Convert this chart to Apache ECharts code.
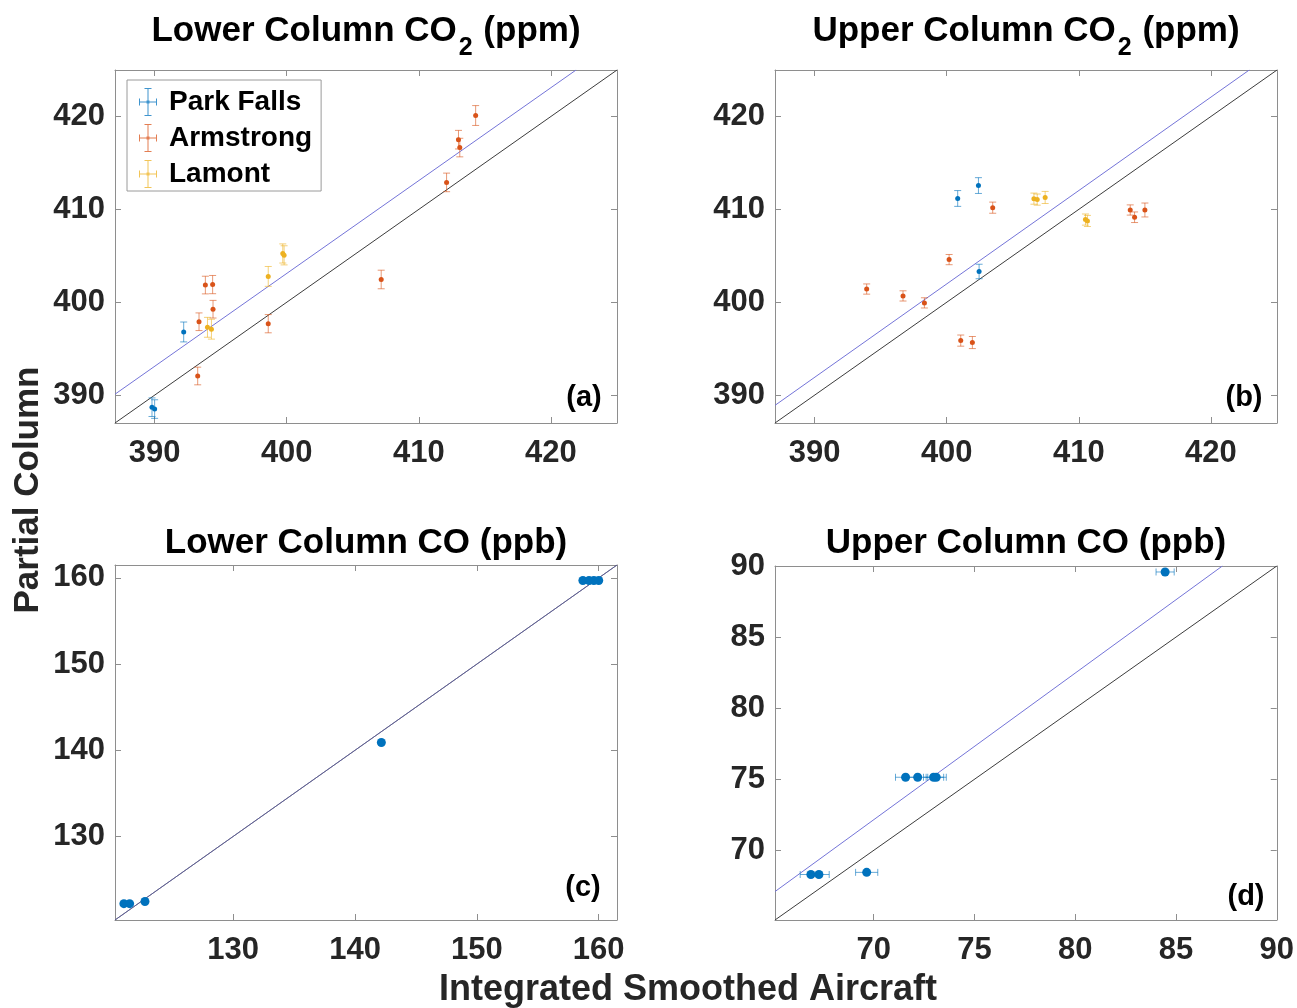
<!DOCTYPE html>
<html>
<head>
<meta charset="utf-8">
<script src="https://cdn.jsdelivr.net/npm/echarts@6/dist/echarts.min.js"></script>
<style>
  html, body { margin: 0; padding: 0; background: #fff; }
  #chart { width: 1297px; height: 1008px; }
</style>
</head>
<body>
<div id="chart"></div>
<script>
// ---- Data: [aircraft, partial column, ±aircraft err, ±partial column err] ----
const lowerCO2ParkFalls = [[392.2, 396.8, 0, 1.07], [389.8, 388.7, 0, 1.0], [390.0, 388.5, 0, 1.0]];
const lowerCO2Armstrong = [
  [414.3, 420.1, 0, 1.07], [413.0, 417.5, 0, 1.0], [413.1, 416.65, 0, 1.0], [412.1, 412.9, 0, 1.0],
  [407.15, 402.45, 0, 1.0], [393.84, 401.85, 0, 0.95], [394.39, 401.9, 0, 0.98], [394.42, 399.25, 0, 0.95],
  [393.36, 397.9, 0, 0.95], [398.6, 397.69, 0, 0.98], [393.26, 392.06, 0, 0.95]
];
const lowerCO2Lamont = [
  [399.7, 405.25, 0, 1.03], [399.8, 405.05, 0, 1.03], [398.6, 402.78, 0, 1.07],
  [394.0, 397.3, 0, 1.07], [394.3, 397.1, 0, 1.07]
];

const upperCO2ParkFalls = [[400.83, 411.17, 0, 0.85], [402.4, 412.56, 0, 0.85], [402.45, 403.31, 0, 0.78]];
const upperCO2Armstrong = [
  [393.94, 401.42, 0, 0.55], [396.69, 400.68, 0, 0.55], [398.31, 399.93, 0, 0.55], [400.18, 404.59, 0, 0.55],
  [403.48, 410.18, 0, 0.6], [401.06, 395.87, 0, 0.6], [401.94, 395.66, 0, 0.65],
  [413.89, 409.93, 0, 0.55], [414.22, 409.15, 0, 0.57], [415.0, 409.93, 0, 0.75]
];
const upperCO2Lamont = [
  [406.6, 411.15, 0, 0.6], [406.85, 411.05, 0, 0.6], [407.45, 411.28, 0, 0.65],
  [410.5, 408.9, 0, 0.6], [410.65, 408.75, 0, 0.6]
];

const lowerCOParkFalls = [
  [121.03, 122.2, 0, 0], [121.5, 122.2, 0, 0], [122.76, 122.45, 0, 0], [142.16, 140.9, 0, 0],
  [158.7, 159.7, 0, 0], [159.2, 159.7, 0, 0], [159.6, 159.7, 0, 0], [160.0, 159.7, 0, 0]
];
const upperCOParkFalls = [
  [66.88, 68.3, 0.53, 0], [67.28, 68.3, 0.51, 0], [69.65, 68.45, 0.55, 0],
  [71.58, 75.14, 0.5, 0], [72.18, 75.14, 0.5, 0], [72.97, 75.14, 0.5, 0], [73.1, 75.14, 0.5, 0],
  [84.46, 89.58, 0.45, 0]
];

// Fitted lines and 1:1 reference lines (end points)
const fitLowerCO2 = [[387, 390.1], [421.9, 425]];
const fitUpperCO2 = [[387, 388.9], [422.9, 425]];
const fitLowerCO = [[120.3, 120.3], [161.5, 161.5]];
const fitUpperCO = [[65.1, 67.1], [87.3, 90]];
const oneToOneCO2 = [[387, 387], [425, 425]];
const oneToOneLowerCO = [[120.3, 120.3], [161.5, 161.5]];
const oneToOneUpperCO = [[65.1, 65.1], [90, 90]];

// Axis ranges and tick labels
const co2Range = [387, 425];
const lowerCORange = [120.3, 161.5];
const upperCORange = [65.1, 90];
const co2Ticks = [390, 400, 410, 420];
const lowerCOTicks = [130, 140, 150, 160];
const upperCOTicks = [70, 75, 80, 85, 90];

const siteNames = ['Park Falls', 'Armstrong', 'Lamont'];
const siteColors = ['#0072BD', '#D95319', '#EDB120'];

const FONT = '"Liberation Sans", Arial, Helvetica, sans-serif';
const AXIS_GRAY = '#8e8e8e';
const FIT_COLOR = '#7474d8';
const ONE_COLOR = '#3c3c3c';

// crosshair error-bar glyph used for legend entries
const ERR_ICON = 'path://M8.5 0H9.5V28H8.5Z M5.5 0H12.5V1H5.5Z M5.5 27H12.5V28H5.5Z ' +
  'M0 13.5H18V14.5H0Z M0 10.5H1V17.5H0Z M17 10.5H18V17.5H17Z M7.5 12.5H10.5V15.5H7.5Z';

const grids = [
  { left: 115, top: 70, width: 502, height: 353 },
  { left: 775, top: 70, width: 502, height: 353 },
  { left: 115, top: 565, width: 502, height: 355 },
  { left: 775, top: 566, width: 502, height: 354 }
];

function axisPair(kind, gridIndex, range, ticks) {
  const base = {
    type: 'value', gridIndex, min: range[0], max: range[1], scale: true,
    axisLine: { show: true, onZero: false, lineStyle: { color: AXIS_GRAY, width: 1 } },
    axisTick: { show: true, inside: true, length: 6, customValues: ticks, lineStyle: { color: AXIS_GRAY } },
    splitLine: { show: false }
  };
  const main = Object.assign({}, base, {
    position: kind === 'x' ? 'bottom' : 'left',
    axisLabel: {
      customValues: ticks, fontSize: 31, fontWeight: 'bold', color: '#262626',
      fontFamily: FONT, margin: kind === 'x' ? 15 : 10
    }
  });
  const mirror = Object.assign({}, base, {
    position: kind === 'x' ? 'top' : 'right',
    axisLabel: { show: false }
  });
  return [main, mirror];
}

const xAxes = [].concat(
  axisPair('x', 0, co2Range, co2Ticks), axisPair('x', 1, co2Range, co2Ticks),
  axisPair('x', 2, lowerCORange, lowerCOTicks), axisPair('x', 3, upperCORange, upperCOTicks)
);
const yAxes = [].concat(
  axisPair('y', 0, co2Range, co2Ticks), axisPair('y', 1, co2Range, co2Ticks),
  axisPair('y', 2, lowerCORange, lowerCOTicks), axisPair('y', 3, upperCORange, upperCOTicks)
);

function errorBars(capHalf) {
  return function (params, api) {
    const x = api.value(0), y = api.value(1), ex = api.value(2), ey = api.value(3);
    const style = { stroke: api.visual('color'), lineWidth: 1, opacity: 0.6 };
    const kids = [];
    if (ey > 0) {
      const t = api.coord([x, y + ey]), b = api.coord([x, y - ey]);
      kids.push({ type: 'line', shape: { x1: t[0], y1: t[1], x2: b[0], y2: b[1] }, style });
      kids.push({ type: 'line', shape: { x1: t[0] - capHalf, y1: t[1], x2: t[0] + capHalf, y2: t[1] }, style });
      kids.push({ type: 'line', shape: { x1: b[0] - capHalf, y1: b[1], x2: b[0] + capHalf, y2: b[1] }, style });
    }
    if (ex > 0) {
      const l = api.coord([x - ex, y]), r = api.coord([x + ex, y]);
      kids.push({ type: 'line', shape: { x1: l[0], y1: l[1], x2: r[0], y2: r[1] }, style });
      kids.push({ type: 'line', shape: { x1: l[0], y1: l[1] - capHalf, x2: l[0], y2: l[1] + capHalf }, style });
      kids.push({ type: 'line', shape: { x1: r[0], y1: r[1] - capHalf, x2: r[0], y2: r[1] + capHalf }, style });
    }
    return { type: 'group', children: kids };
  };
}

const series = [];
function addSite(panel, name, color, rows, dotSize, capHalf) {
  series.push({
    type: 'custom', name, xAxisIndex: panel * 2, yAxisIndex: panel * 2,
    dimensions: ['x', 'y', 'ex', 'ey'], encode: { x: 0, y: 1 },
    itemStyle: { color }, renderItem: errorBars(capHalf), data: rows, silent: true, z: 3
  });
  series.push({
    type: 'scatter', name, xAxisIndex: panel * 2, yAxisIndex: panel * 2,
    symbol: 'circle', symbolSize: dotSize, itemStyle: { color, opacity: 1 },
    data: rows.map(r => [r[0], r[1]]), silent: true, z: 4
  });
}
function addLine(panel, pts, color, opacity) {
  series.push({
    type: 'line', xAxisIndex: panel * 2, yAxisIndex: panel * 2, data: pts,
    symbol: 'none', silent: true, z: 2,
    lineStyle: { color, width: 1, opacity }
  });
}

// (a) lower column CO2
addLine(0, oneToOneCO2, ONE_COLOR, 1);
addLine(0, fitLowerCO2, FIT_COLOR, 1);
addSite(0, siteNames[0], siteColors[0], lowerCO2ParkFalls, 5, 3.5);
addSite(0, siteNames[1], siteColors[1], lowerCO2Armstrong, 5, 3.5);
addSite(0, siteNames[2], siteColors[2], lowerCO2Lamont, 5, 3.5);
// (b) upper column CO2
addLine(1, oneToOneCO2, ONE_COLOR, 1);
addLine(1, fitUpperCO2, FIT_COLOR, 1);
addSite(1, siteNames[0], siteColors[0], upperCO2ParkFalls, 5, 3.5);
addSite(1, siteNames[1], siteColors[1], upperCO2Armstrong, 5, 3.5);
addSite(1, siteNames[2], siteColors[2], upperCO2Lamont, 5, 3.5);
// (c) lower column CO
addLine(2, oneToOneLowerCO, ONE_COLOR, 1);
addLine(2, fitLowerCO, FIT_COLOR, 0.6);
addSite(2, siteNames[0], siteColors[0], lowerCOParkFalls, 9, 3.5);
// (d) upper column CO
addLine(3, oneToOneUpperCO, ONE_COLOR, 1);
addLine(3, fitUpperCO, FIT_COLOR, 1);
addSite(3, siteNames[0], siteColors[0], upperCOParkFalls, 9, 3.5);

function txt(x, y, text, size, extra) {
  return Object.assign({
    type: 'text', x, y, silent: true,
    style: Object.assign({
      text, fill: '#000', font: 'bold ' + size + 'px ' + FONT,
      fontSize: size, fontWeight: 'bold', fontFamily: FONT,
      align: 'center', verticalAlign: 'middle', textAlign: 'center', textVerticalAlign: 'middle'
    }, extra || {})
  });
}
function subTitle(x, y, pre, post) {
  return {
    type: 'text', x, y, silent: true,
    style: {
      text: '{t|' + pre + '}{s|2}{t|' + post + '}',
      align: 'center', verticalAlign: 'middle', textAlign: 'center', textVerticalAlign: 'middle',
      rich: {
        t: { fontSize: 35, fontWeight: 'bold', fontFamily: FONT, fill: '#000' },
        s: { fontSize: 25, fontWeight: 'bold', fontFamily: FONT, fill: '#000', padding: [34, 1, 0, 2] }
      }
    }
  };
}

const option = {
  animation: false,
  backgroundColor: '#ffffff',
  grid: grids,
  xAxis: xAxes,
  yAxis: yAxes,
  legend: {
    orient: 'vertical', left: 127, top: 80, selectedMode: false,
    backgroundColor: '#fff', borderColor: '#9a9a9a', borderWidth: 1,
    padding: [8, 9, 3, 12], itemGap: 8, itemWidth: 32, itemHeight: 28,
    textStyle: { fontSize: 28, fontWeight: 'bold', color: '#000', fontFamily: FONT },
    data: siteNames.map(n => ({ name: n, icon: ERR_ICON, itemStyle: { opacity: 0.75 } }))
  },
  graphic: [
    subTitle(366, 31, 'Lower Column CO', ' (ppm)'),
    subTitle(1026, 31, 'Upper Column CO', ' (ppm)'),
    txt(366, 543, 'Lower Column CO (ppb)', 35),
    txt(1026, 543, 'Upper Column CO (ppb)', 35),
    txt(584, 398, '(a)', 29),
    txt(1244, 398, '(b)', 29),
    txt(583, 888, '(c)', 29),
    txt(1246, 897, '(d)', 29),
    txt(688, 990, 'Integrated Smoothed Aircraft', 36, { fill: '#262626' }),
    Object.assign(txt(28, 490, 'Partial Column', 35, { fill: '#262626' }), { rotation: Math.PI / 2 })
  ],
  series
};

const chart = echarts.init(document.getElementById('chart'), null, { renderer: 'canvas' });
chart.setOption(option);
</script>
</body>
</html>
